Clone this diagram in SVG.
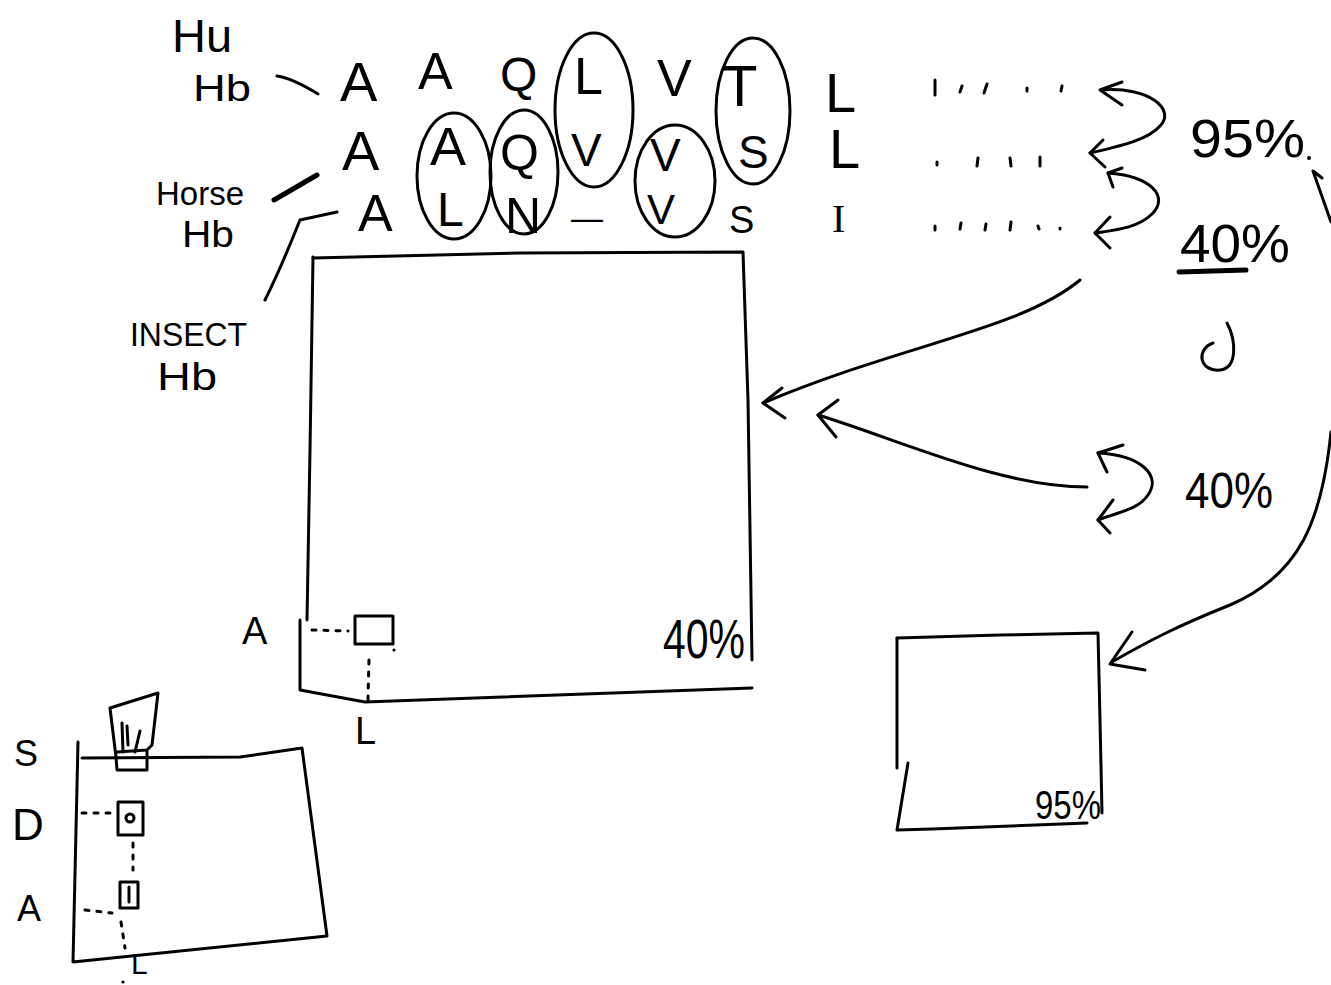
<svg xmlns="http://www.w3.org/2000/svg" width="1331" height="985" viewBox="0 0 1331 985">
<style>
.ln{fill:none;stroke:#000;stroke-width:3;stroke-linecap:round;stroke-linejoin:round}
.th{fill:none;stroke:#000;stroke-width:5;stroke-linecap:round}
.dt{fill:none;stroke:#000;stroke-width:3;stroke-dasharray:4 8;stroke-linecap:round}
.tx{font-family:"Liberation Sans",Arial,sans-serif;fill:#000}
.sf{font-family:"Liberation Serif","Times New Roman",serif;fill:#000}
</style>
<rect width="1331" height="985" fill="#fff"/>

<g id="labels-left">
  <text class="tx" x="172" y="52" font-size="46" textLength="60" lengthAdjust="spacingAndGlyphs">Hu</text>
  <text class="tx" x="193" y="101" font-size="36" textLength="58" lengthAdjust="spacingAndGlyphs">Hb</text>
  <text class="tx" x="156" y="205" font-size="34" textLength="88" lengthAdjust="spacingAndGlyphs">Horse</text>
  <text class="tx" x="182" y="247" font-size="36" textLength="52" lengthAdjust="spacingAndGlyphs">Hb</text>
  <text class="tx" x="130" y="346" font-size="34" textLength="117" lengthAdjust="spacingAndGlyphs">INSECT</text>
  <text class="tx" x="157" y="390" font-size="38" textLength="60" lengthAdjust="spacingAndGlyphs">Hb</text>
</g>

<g id="sequence-rows">
  <text class="tx" x="340" y="101" font-size="56">A</text>
  <text class="tx" x="418" y="89" font-size="52">A</text>
  <text class="tx" x="500" y="91" font-size="48">Q</text>
  <text class="tx" x="574" y="94" font-size="52">L</text>
  <text class="tx" x="657" y="96" font-size="52">V</text>
  <text class="tx" x="722" y="106" font-size="58">T</text>
  <text class="tx" x="825" y="112" font-size="56">L</text>

  <text class="tx" x="342" y="170" font-size="56">A</text>
  <text class="tx" x="430" y="165" font-size="54">A</text>
  <text class="tx" x="500" y="170" font-size="50">Q</text>
  <text class="tx" x="571" y="166" font-size="46">V</text>
  <text class="tx" x="650" y="171" font-size="46">V</text>
  <text class="tx" x="738" y="168" font-size="46">S</text>
  <text class="tx" x="829" y="168" font-size="56">L</text>

  <text class="tx" x="358" y="231" font-size="52">A</text>
  <text class="tx" x="437" y="226" font-size="48">L</text>
  <text class="tx" x="505" y="233" font-size="50">N</text>
  <text class="tx" x="571" y="229" font-size="34" textLength="32" lengthAdjust="spacingAndGlyphs">—</text>
  <text class="tx" x="647" y="224" font-size="42">V</text>
  <text class="tx" x="729" y="233" font-size="38">S</text>
  <text class="sf" x="832" y="232" font-size="40">I</text>

  <path class="ln" d="M935,80 L935,95 M962,86 L960,92 M987,84 L984,93 M1027,88 L1027,91 M1062,86 L1061,91"/>
  <path class="ln" d="M937,162 L937,165 M978,158 L977,166 M1010,158 L1011,166 M1040,157 L1040,166"/>
  <path class="ln" d="M935,226 L935,230 M961,223 L960,229 M986,224 L985,230 M1011,222 L1010,230 M1038,226 L1039,229 M1060,228 L1060,229"/>
</g>

<g id="highlight-ellipses">
  <ellipse class="ln" cx="454" cy="176" rx="37" ry="63"/>
  <ellipse class="ln" cx="524" cy="172" rx="34" ry="62"/>
  <ellipse class="ln" cx="594" cy="110" rx="39" ry="77"/>
  <ellipse class="ln" cx="675" cy="181" rx="40" ry="56"/>
  <ellipse class="ln" cx="753" cy="111" rx="37" ry="73"/>
</g>

<g id="percent-labels">
  <text class="tx" x="1190" y="157" font-size="54" textLength="115" lengthAdjust="spacingAndGlyphs">95%</text>
  <circle cx="1309" cy="158" r="2" fill="#000"/>
  <text class="tx" x="1180" y="262" font-size="54" textLength="110" lengthAdjust="spacingAndGlyphs">40%</text>
  <path class="th" d="M1179,272 L1246,270"/>
  <path class="ln" d="M1227,323 C1236,340 1238,368 1220,370 C1200,372 1195,350 1213,343"/>
  <text class="tx" x="1185" y="508" font-size="50" textLength="88" lengthAdjust="spacingAndGlyphs">40%</text>
</g>

<g id="big-square">
  <path class="ln" d="M313,257 L310,450 L307,620 M300,620 L300,690 L365,702 L752,688"/>
  <path class="ln" d="M313,258 L520,253 L743,252 L748,400 L752,660"/>
  <text class="tx" x="242" y="644" font-size="38">A</text>
  <path class="dt" d="M312,630 L348,631"/>
  <rect class="ln" x="355" y="616" width="38" height="28"/>
  <circle cx="394" cy="650" r="1.6" fill="#000"/>
  <path class="dt" d="M369,660 L368,700"/>
  <text class="tx" x="355" y="744" font-size="38">L</text>
  <text class="tx" x="663" y="658" font-size="56" textLength="82" lengthAdjust="spacingAndGlyphs">40%</text>
</g>

<g id="small-square-right">
  <path class="ln" d="M897,638 L1000,635 L1098,633 L1100,720 L1102,813"/>
  <path class="ln" d="M897,638 L897,768 M908,763 L897,830 L932,829 L1087,823"/>
  <text class="tx" x="1035" y="819" font-size="40" textLength="66" lengthAdjust="spacingAndGlyphs">95%</text>
</g>

<g id="small-square-left">
  <path class="ln" d="M78,742 L73,962 L327,936 L302,748 L240,757 L82,758"/>
  <text class="tx" x="14" y="766" font-size="36">S</text>
  <text class="tx" x="12" y="840" font-size="44">D</text>
  <text class="tx" x="17" y="921" font-size="36">A</text>
  <path class="ln" d="M110,708 L158,693 L152,745 L147,750 M110,708 L116,757 L117,770 L147,770 L147,750 L117,752"/>
  <path class="ln" d="M122,723 L123,752 M127,726 L128,745 M140,731 L135,752"/>
  <rect class="ln" x="118" y="802" width="25" height="33"/>
  <circle class="ln" cx="130" cy="818" r="4"/>
  <path class="dt" d="M82,813 L116,813"/>
  <path class="dt" d="M133,843 L133,870"/>
  <rect class="ln" x="120" y="882" width="18" height="26"/>
  <path class="ln" d="M129,887 L129,902"/>
  <path class="dt" d="M85,910 L112,913"/>
  <path class="dt" d="M121,922 L125,948"/>
  <text class="tx" x="131" y="974" font-size="30">L</text>
  <circle cx="123" cy="982" r="1.6" fill="#000"/>
</g>

<g id="connectors">
  <path class="ln" d="M277,76 C290,78 305,86 318,94"/>
  <path class="th" d="M274,200 L317,175"/>
  <path class="ln" d="M337,212 L300,220 C292,240 280,270 265,300"/>
  <path class="ln" d="M1101,90 C1150,86 1176,110 1160,126 C1148,140 1120,146 1090,153"/>
  <path class="ln" d="M1122,82 L1100,90 L1122,105 M1103,140 L1090,153 L1105,167"/>
  <path class="ln" d="M1108,173 C1150,176 1170,196 1152,214 C1138,228 1115,230 1095,233"/>
  <path class="ln" d="M1122,168 L1108,173 L1113,187 M1110,217 L1095,233 L1110,248"/>
  <path class="ln" d="M1098,453 C1140,455 1162,475 1148,495 C1138,510 1118,512 1098,520"/>
  <path class="ln" d="M1123,445 L1098,453 L1107,472 M1113,500 L1098,520 L1110,533"/>
  <path class="ln" d="M1080,280 C1020,330 900,345 763,403"/>
  <path class="ln" d="M782,388 L763,403 L785,418"/>
  <path class="ln" d="M1087,487 C1000,487 900,440 818,415"/>
  <path class="ln" d="M838,400 L818,415 L836,437"/>
  <path class="ln" d="M1313,171 L1331,222 M1313,171 L1322,178"/>
  <path class="ln" d="M1331,432 C1322,520 1300,575 1230,605 C1180,625 1150,640 1112,662"/>
  <path class="ln" d="M1132,632 L1110,664 L1145,670"/>
</g>
</svg>
